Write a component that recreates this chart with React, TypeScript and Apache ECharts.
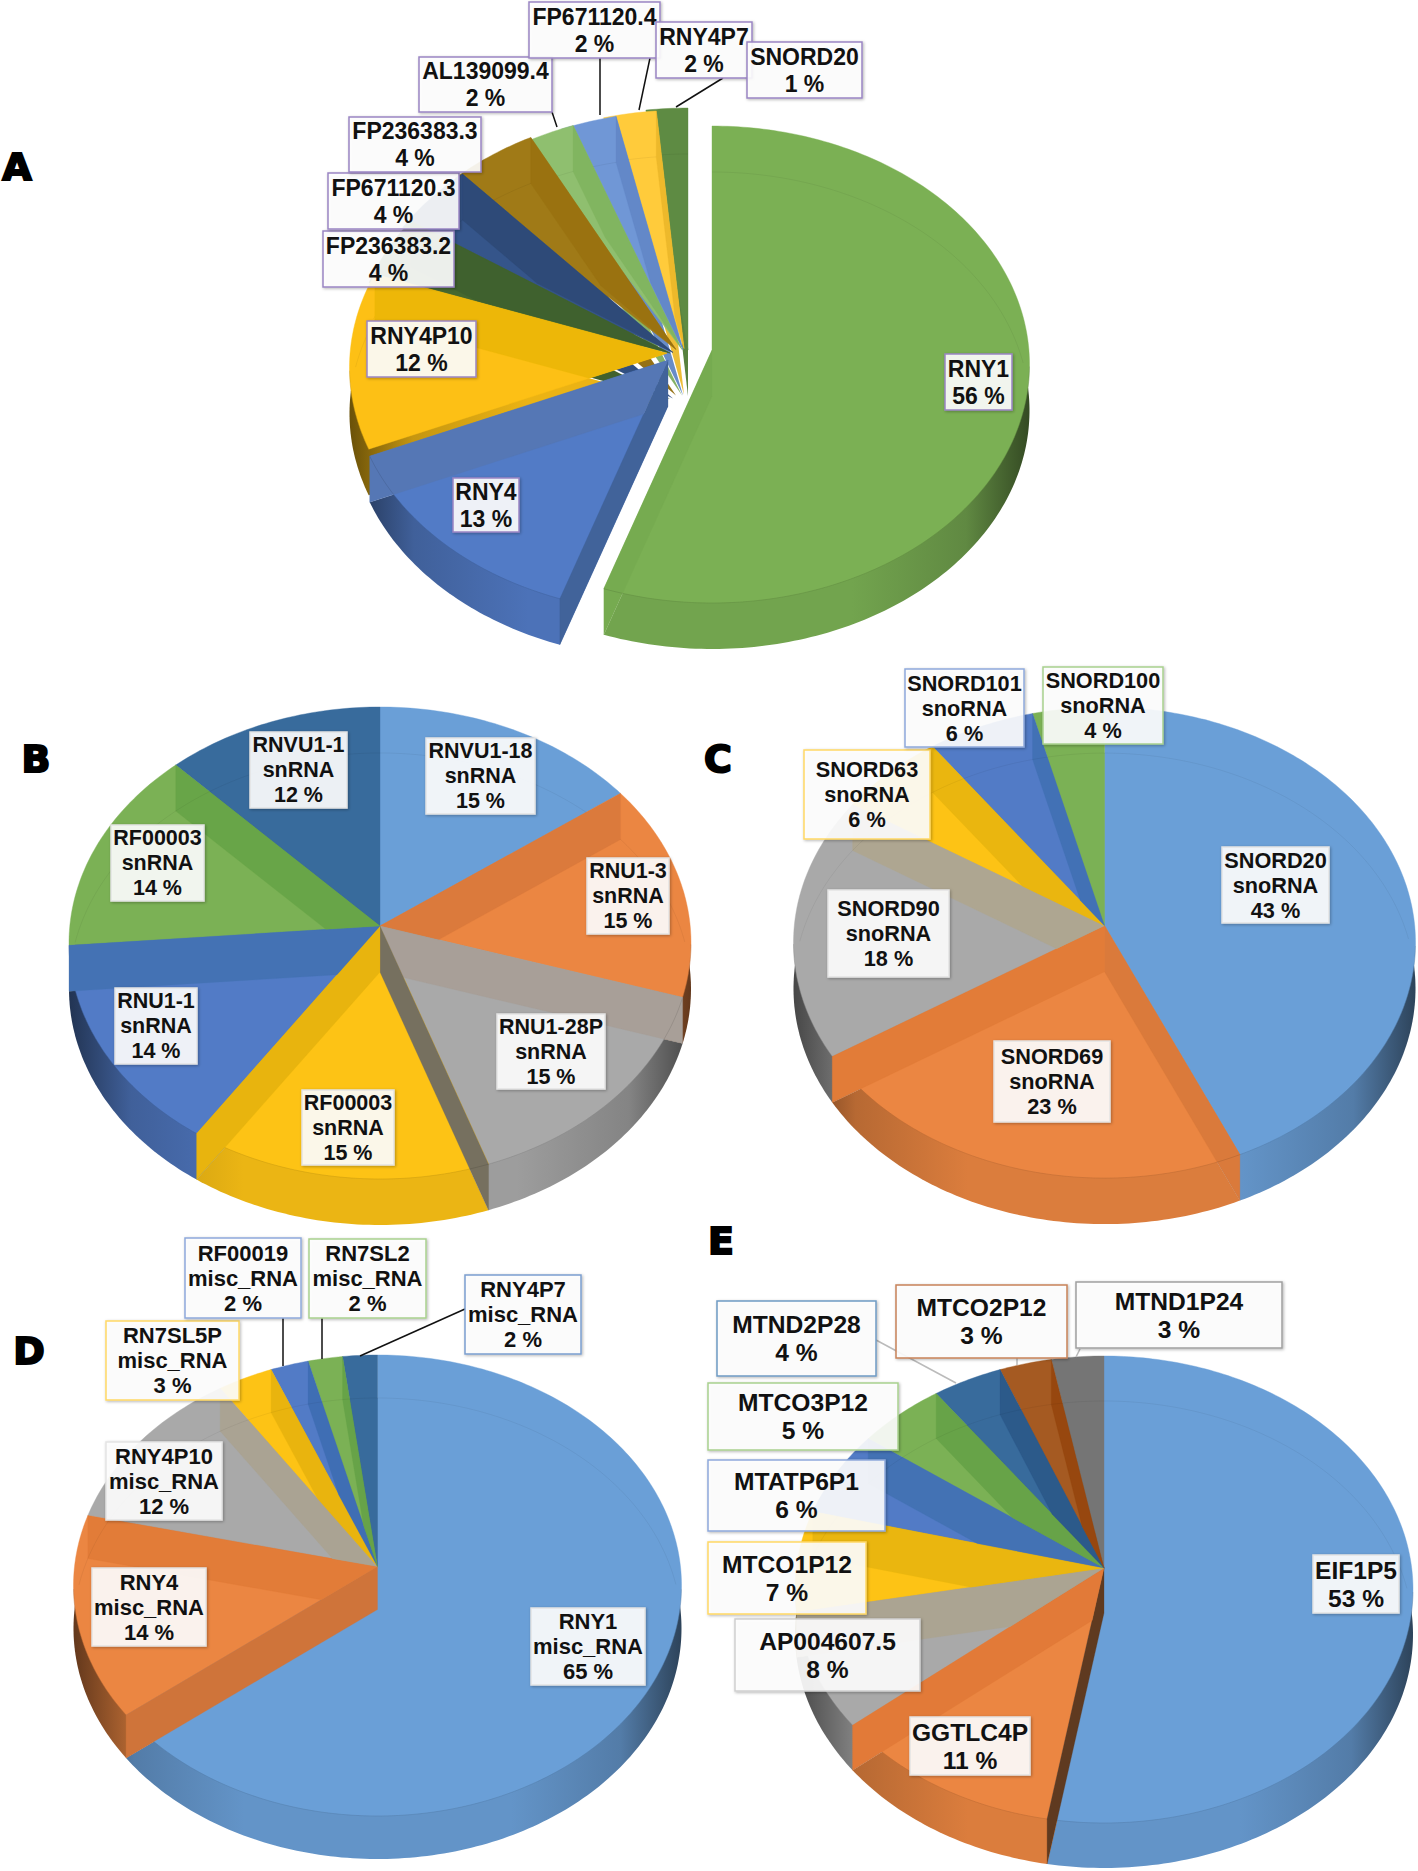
import React, { useEffect, useRef } from "react";
import * as echarts from "echarts";

// ---------- data (the labels show them rounded) ----------
const namesA = ["RNY1", "RNY4", "RNY4P10", "FP236383.2", "FP671120.3", "FP236383.3", "AL139099.4", "FP671120.4", "RNY4P7", "SNORD20"];
const valuesA = [55.5, 13.4, 12, 4, 4, 4, 2, 2.2, 2, 1.4];

const namesB = ["RNVU1-18", "RNU1-3", "RNU1-28P", "RF00003", "RNU1-1", "RF00003", "RNVU1-1"];
const valuesB = [15, 14.8, 14.9, 14.7, 14.3, 14.1, 12.2];

const namesC = ["SNORD20", "SNORD69", "SNORD90", "SNORD63", "SNORD101", "SNORD100"];
const valuesC = [43.3, 22.7, 18, 6, 6, 4];

const namesD = ["RNY1", "RNY4", "RNY4P10", "RN7SL5P", "RF00019", "RN7SL2", "RNY4P7"];
const valuesD = [64.6, 14.2, 12, 3.2, 2.2, 2, 2];

const namesE = ["EIF1P5", "GGTLC4P", "AP004607.5", "MTCO1P12", "MTATP6P1", "MTCO3P12", "MTND2P28", "MTCO2P12", "MTND1P24"];
const valuesE = [52.7, 11.3, 8, 7, 6, 5, 4, 3, 3];

// ---------- styling and layout ----------
const BLUE = "#6A9FD7", ORANGE = "#EB8642", GREY = "#A9A9A9", YELLOW = "#FDC315", MID = "#527BC6", GREEN = "#7BB155", NAVY = "#386B9C";
const PURPLE = "#9A85C4", B_BLUE = "#8EA9DB", B_GREEN = "#A9D18E", B_YELLOW = "#FFD966", B_NONE = "#E4E4E4";

type Box = [number, number, number, number, string];
type Pt = [number, number];
type PieCfg = {
  names: string[]; values: number[]; sub: string; cx: number; cy: number; rx: number; ry: number; e: number; h: number;
  fontSize: number; lineHeight: number; colors: string[]; startBand: (string | null)[]; endBand?: (string | null)[];
  offsets?: [number, number][]; eccentricity?: number[]; reverse?: boolean; boxes: Box[];
};

const pies: PieCfg[] = [
  {
    names: namesA, values: valuesA, sub: "", cx: 712, cy: 364.5, rx: 317.5, ry: 238.5, e: 0.06, h: 46, fontSize: 23, lineHeight: 27, reverse: true,
    colors: ["#7BB054", "#527BC6", "#FDC015", "#46682F", "#35558A", "#A07A17", "#8FBF6F", "#7097D6", "#FFCB3B", "#5E8B43"],
    startBand: [null, "#41639A", null, null, null, null, null, null, null, null],
    endBand: ["#76AB50", "#5577B5", "#EDB708", "#3F612E", "#2E4A78", "#9A7210", "#81B560", "#6388C8", "#EDB92B", null],
    offsets: [[0, 0], [-44, 10], [-45, 3], [-42, -6], [-39, -12], [-36, -15], [-30, -15], [-29, -15], [-28, -16], [-24, -18]],
    eccentricity: [0.06, 0.06, 0.06, 0.023, 0, 0, 0, 0, 0, -0.015],
    boxes: [
      [945, 354, 1012, 410, PURPLE], [453, 478, 519, 532, PURPLE], [367, 321, 476, 377, PURPLE], [323, 231, 454, 287, PURPLE],
      [328, 173, 459, 229, PURPLE], [349, 117, 481, 172, PURPLE], [419, 57, 552, 112, PURPLE], [529, 2, 660, 58, PURPLE],
      [656, 22, 752, 78, PURPLE], [747, 42, 862, 98, PURPLE],
    ],
  },
  {
    names: namesB, values: valuesB, sub: "snRNA", cx: 380, cy: 943, rx: 311, ry: 236, e: 0.072, h: 46, fontSize: 21.5, lineHeight: 25,
    colors: [BLUE, ORANGE, GREY, YELLOW, MID, GREEN, NAVY],
    startBand: [null, "#DB7A3C", "#A89F98", "#76705F", "#E8B40E", "#4472B4", "#68A548"],
    boxes: [
      [426, 738, 535, 814, B_NONE], [587, 858, 669, 934, B_NONE], [497, 1014, 605, 1089, B_NONE], [302, 1090, 394, 1165, B_NONE],
      [115, 988, 197, 1064, B_NONE], [111, 825, 204, 901, B_NONE], [250, 732, 347, 808, B_NONE],
    ],
  },
  {
    names: namesC, values: valuesC, sub: "snoRNA", cx: 1104.5, cy: 942.6, rx: 311, ry: 235.5, e: 0.072, h: 46, fontSize: 21.7, lineHeight: 25,
    colors: [BLUE, ORANGE, GREY, YELLOW, MID, GREEN],
    startBand: [null, "#DA7A3B", "#E27C38", "#AEA691", "#EAB60F", "#4271B5"],
    boxes: [
      [1222, 847, 1329, 923, B_NONE], [994, 1041, 1110, 1122, B_NONE], [828, 890, 949, 977, B_NONE],
      [804, 750, 930, 839, B_YELLOW], [905, 669, 1024, 747, B_BLUE], [1043, 667, 1163, 744, B_GREEN],
    ],
  },
  {
    names: namesD, values: valuesD, sub: "misc_RNA", cx: 377.5, cy: 1585.5, rx: 304, ry: 230.5, e: 0.082, h: 43, fontSize: 22, lineHeight: 25,
    colors: [BLUE, ORANGE, GREY, YELLOW, MID, GREEN, NAVY],
    startBand: [null, "#CF743A", "#E27C38", "#AAA393", "#E9B40E", "#3F6EB4", "#67A348"],
    boxes: [
      [531, 1608, 645, 1685, B_NONE], [92, 1568, 206, 1646, B_NONE], [106, 1442, 222, 1520, B_NONE], [106, 1321, 239, 1400, B_YELLOW],
      [185, 1238, 301, 1318, B_BLUE], [309, 1239, 426, 1318, B_GREEN], [465, 1275, 581, 1354, "#7C9FD0"],
    ],
  },
  {
    names: namesE, values: valuesE, sub: "", cx: 1104, cy: 1589.5, rx: 309, ry: 233.5, e: 0.092, h: 45, fontSize: 24.6, lineHeight: 28,
    colors: [BLUE, ORANGE, GREY, YELLOW, MID, GREEN, NAVY, "#A55A22", "#757575"],
    startBand: [null, "#5F3A20", "#E27A38", "#ABA492", "#EAB60F", "#4372B4", "#67A348", "#2C5A8A", "#97470F"],
    boxes: [
      [1313, 1555, 1399, 1613, B_NONE], [910, 1717, 1030, 1775, B_NONE], [735, 1619, 920, 1691, "#CFCFCF"], [708, 1542, 866, 1614, B_YELLOW],
      [708, 1460, 885, 1531, B_BLUE], [708, 1383, 898, 1450, B_GREEN], [717, 1301, 876, 1376, "#6F9BC4"], [896, 1285, 1067, 1358, "#C8835A"],
      [1076, 1282, 1282, 1348, "#A0A0A0"],
    ],
  },
];

const leaders: [number, number, number, number, string][] = [
  [552, 112, 557, 127, "#111"], [600, 58, 600, 115, "#111"], [650, 58, 639, 110, "#111"], [723, 78, 676, 107, "#111"],
  [283, 1318, 283, 1366, "#111"], [322, 1318, 322, 1359, "#111"], [465, 1309, 360, 1356, "#111"],
  [876, 1340, 956, 1383, "#BBBBBB"], [1017, 1358, 1017, 1365, "#BBBBBB"], [1080, 1349, 1076, 1357, "#BBBBBB"],
];

const panelLetters: [string, number, number][] = [
  ["A", 17, 167], ["B", 36, 759], ["C", 718, 759], ["D", 29, 1351], ["E", 721, 1241],
];

// ---------- geometry ----------
const FONT = '"Liberation Sans", Arial, sans-serif';
const rad = (d: number) => (d * Math.PI) / 180;

function shade(hex: string, f: number) {
  const n = parseInt(hex.slice(1), 16);
  const c = [(n >> 16) & 255, (n >> 8) & 255, n & 255].map((v) => Math.round(v * f));
  return `rgb(${c[0]},${c[1]},${c[2]})`;
}

const sliceE = (p: PieCfg, i: number) => (p.eccentricity ? p.eccentricity[i] : p.e);

function edge(p: PieCfg, i: number, deg: number, ox: number, oy: number): Pt {
  const e = sliceE(p, i);
  const s = Math.sin(rad(deg)), c = Math.cos(rad(deg));
  const t = -e * c + Math.sqrt(e * e * c * c + 1 - e * e);
  const u = t * s, v = -e - t * c;
  return [p.cx + p.rx * u + ox, p.cy + p.ry * v + oy];
}

function angles(p: PieCfg, i: number) {
  const total = p.values.reduce((a, b) => a + b, 0);
  const before = p.values.slice(0, i).reduce((a, b) => a + b, 0);
  return [(before / total) * 360, ((before + p.values[i]) / total) * 360];
}

function arcPts(p: PieCfg, i: number, a0: number, a1: number, ox: number, oy: number) {
  const n = Math.max(2, Math.ceil(a1 - a0));
  const pts: Pt[] = [];
  for (let k = 0; k <= n; k++) pts.push(edge(p, i, a0 + ((a1 - a0) * k) / n, ox, oy));
  return pts;
}

const sliceOffset = (p: PieCfg, i: number): [number, number] => (p.offsets ? p.offsets[i] : [0, 0]);
const apex = (p: PieCfg, i: number, ox: number, oy: number): Pt => [p.cx + ox, p.cy - sliceE(p, i) * p.ry + oy];
const drawIndex = (p: PieCfg, k: number) => (p.reverse ? p.values.length - 1 - k : k);
// the thin slices of an exploded pie run on under their neighbour, so that no gap opens between them
const underlap = (p: PieCfg, i: number) => (p.reverse && i >= 3 ? 2.5 : 0);

// keeps the part of a polygon on one side of the ray from a towards b
function clipHalf(poly: Pt[], a: Pt, b: Pt, sign: number) {
  const side = (q: Pt) => sign * ((b[0] - a[0]) * (q[1] - a[1]) - (b[1] - a[1]) * (q[0] - a[0]));
  const out: Pt[] = [];
  poly.forEach((q, idx) => {
    const r = poly[(idx + 1) % poly.length];
    const sq = side(q), sr = side(r);
    if (sq >= 0) out.push(q);
    if ((sq > 0 && sr < 0) || (sq < 0 && sr > 0)) {
      const t = sq / (sq - sr);
      out.push([q[0] + (r[0] - q[0]) * t, q[1] + (r[1] - q[1]) * t]);
    }
  });
  return out;
}

function wallQuad(p: PieCfg, i: number, deg: number, ox: number, oy: number, fill: string, clipSlice: number) {
  const a = apex(p, i, ox, oy);
  const e = edge(p, i, deg, ox, oy);
  let pts: Pt[] = [a, e, [e[0], e[1] + p.h], [a[0], a[1] + p.h]];
  if (clipSlice >= 0) {
    const [a0, a1] = angles(p, clipSlice);
    if (a1 - a0 < 180) {
      pts = clipHalf(pts, a, edge(p, i, a0, ox, oy), 1);
      pts = clipHalf(pts, a, edge(p, i, a1, ox, oy), -1);
    }
  }
  if (pts.length < 3) return null;
  return { type: "polygon", shape: { points: pts }, style: { fill, stroke: fill, lineWidth: 0.3 } };
}

function sideSeries(p: PieCfg) {
  return {
    type: "custom", coordinateSystem: "none", silent: true, z: 2,
    data: p.values.map((v) => [v]),
    renderItem: (params: any) => {
      const i = drawIndex(p, params.dataIndex);
      const [ox, oy] = sliceOffset(p, i);
      const [a0, a1] = angles(p, i);
      const ap = apex(p, i, ox, oy);
      const pts = [[ap[0], ap[1] + p.h], ...arcPts(p, i, a0, a1, ox, oy + p.h)];
      const col = p.colors[i];
      const x0 = p.cx - p.rx + ox, w = 2 * p.rx;
      const fill = new echarts.graphic.LinearGradient(x0, 0, x0 + w, 0, [
        { offset: 0, color: shade(col, 0.42) },
        { offset: 0.1, color: shade(col, 0.78) },
        { offset: 0.28, color: shade(col, 0.93) },
        { offset: 0.72, color: shade(col, 0.93) },
        { offset: 0.9, color: shade(col, 0.78) },
        { offset: 1, color: shade(col, 0.42) },
      ], true);
      return { type: "polygon", shape: { points: pts }, style: { fill } };
    },
  };
}

function topSeries(p: PieCfg) {
  return {
    type: "custom", coordinateSystem: "none", silent: true, z: 2,
    data: p.values.map((v) => [v]),
    renderItem: (params: any) => {
      const i = drawIndex(p, params.dataIndex);
      const [ox, oy] = sliceOffset(p, i);
      const [a0, a1] = angles(p, i);
      const pts = [apex(p, i, ox, oy), ...arcPts(p, i, a0 - underlap(p, i), a1, ox, oy)];
      return { type: "polygon", shape: { points: pts }, style: { fill: p.colors[i], stroke: p.colors[i], lineWidth: 0.4 } };
    },
  };
}

function wallSeries(p: PieCfg) {
  return {
    type: "custom", coordinateSystem: "none", silent: true, z: 2,
    data: p.values.map((v) => [v]),
    renderItem: (params: any) => {
      const i = drawIndex(p, params.dataIndex);
      const [ox, oy] = sliceOffset(p, i);
      const [a0, a1] = angles(p, i);
      const children: any[] = [];
      if (p.startBand[i]) {
        const host = p.offsets ? -1 : a0 < 180 ? i : i - 1;
        const q = wallQuad(p, i, a0, ox, oy, p.startBand[i] as string, host);
        if (q) children.push(q);
      }
      if (p.endBand && p.endBand[i]) {
        const q = wallQuad(p, i, a1, ox, oy, p.endBand[i] as string, i);
        if (q) children.push(q);
      }
      // the rim of the top face, and the faint inner arc
      const rim = arcPts(p, i, a0, a1, ox, oy).filter((q) => q[1] > p.cy + oy);
      if (rim.length > 1) children.push({ type: "polyline", shape: { points: rim }, style: { fill: "none", stroke: "rgba(0,0,0,0.1)", lineWidth: 1 } });
      const inner = arcPts(p, i, a0, a1, ox, oy + p.h).filter((q) => {
        const u = (q[0] - p.cx - ox) / p.rx, v = (q[1] - p.cy - oy) / p.ry;
        return u * u + v * v < 0.995 && q[1] < p.cy + oy;
      });
      if (inner.length > 1) children.push({ type: "polyline", shape: { points: inner }, style: { fill: "none", stroke: "rgba(0,0,0,0.05)", lineWidth: 1 } });
      return { type: "group", children };
    },
  };
}

function labelSeries(p: PieCfg) {
  return {
    type: "custom", coordinateSystem: "none", silent: true, z: 6,
    data: p.values.map((v) => [v]),
    renderItem: (params: any, api: any) => {
      const i = params.dataIndex;
      const [x0, y0, x1, y1, border] = p.boxes[i];
      const lines = [p.names[i]];
      if (p.sub) lines.push(p.sub);
      lines.push(`${Math.round(api.value(0))} %`);
      return {
        type: "group",
        children: [
          {
            type: "rect", shape: { x: x0, y: y0, width: x1 - x0, height: y1 - y0 },
            style: {
              fill: "rgba(255,255,255,0.89)", stroke: border, lineWidth: 1.5,
              shadowBlur: 3, shadowOffsetX: 1, shadowOffsetY: 1, shadowColor: "rgba(0,0,0,0.3)",
            },
          },
          {
            type: "text",
            style: {
              x: (x0 + x1) / 2, y: (y0 + y1) / 2, text: lines.join("\n"), fill: "#111",
              font: `bold ${p.fontSize}px ${FONT}`, lineHeight: p.lineHeight, align: "center", verticalAlign: "middle",
            },
          },
        ],
      };
    },
  };
}

export default function App() {
  const ref = useRef<HTMLDivElement>(null);
  useEffect(() => {
    const chart = echarts.init(ref.current as HTMLDivElement, undefined, { renderer: "svg" });
    const series: any[] = [];
    pies.forEach((p) => series.push(sideSeries(p), topSeries(p), wallSeries(p), labelSeries(p)));
    chart.setOption({
      animation: false,
      backgroundColor: "#fff",
      series,
      graphic: [
        ...leaders.map(([x1, y1, x2, y2, c]) => ({
          type: "line", z: 4, shape: { x1, y1, x2, y2 }, style: { stroke: c, lineWidth: 1.5 },
        })),
        ...panelLetters.map(([t, x, y]) => ({
          type: "text", z: 8, x, y,
          style: {
            text: t, fill: "#000", stroke: "#000", lineWidth: 2,
            font: `900 38px "DejaVu Sans", sans-serif`, align: "center", verticalAlign: "middle",
          },
        })),
      ],
    });
    return () => chart.dispose();
  }, []);
  return <div ref={ref} style={{ position: "absolute", left: 0, top: 0, width: 1418, height: 1871 }} />;
}
